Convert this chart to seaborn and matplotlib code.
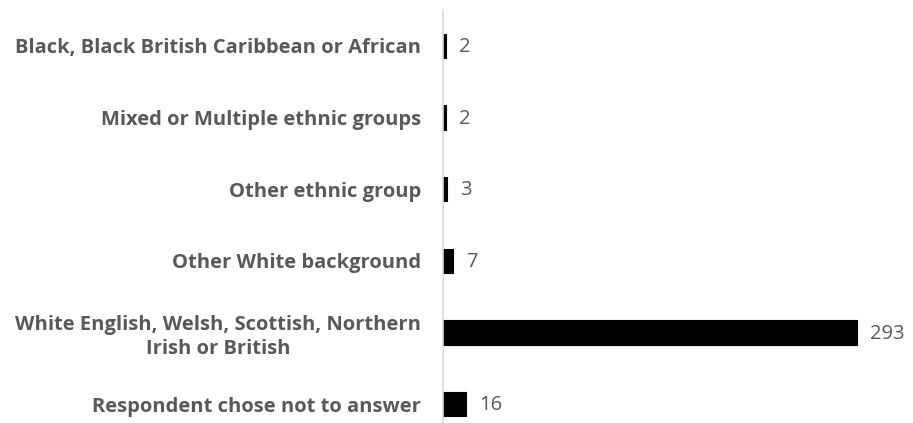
import matplotlib
matplotlib.use("Agg")
import matplotlib.pyplot as plt
import seaborn as sns
import pandas as pd

categories = [
    "Black, Black British Caribbean or African",
    "Mixed or Multiple ethnic groups",
    "Other ethnic group",
    "Other White background",
    "White English, Welsh, Scottish, Northern\nIrish or British",
    "Respondent chose not to answer",
]
values = [2, 2, 3, 7, 293, 16]

sns.set_theme(style="white")
plt.rcParams["font.family"] = ["Open Sans", "DejaVu Sans"]

df = pd.DataFrame({"category": categories, "value": values})

fig = plt.figure(figsize=(9.13, 4.23), dpi=100)
W, H = 913, 423
ax = fig.add_axes([443 / W, 0, (900 - 443) / W, (423 - 10) / H])

sns.barplot(data=df, y="category", x="value", color="black", width=0.34,
            saturation=1, ax=ax, orient="h")
for p in ax.patches:
    p.set_edgecolor("black")
    p.set_linewidth(0.8)

ax.set_xlim(0, (900 - 443) / (414 / 293))
ax.set_ylim(5.265, -0.5)
ax.set_xlabel("")
ax.set_ylabel("")
ax.set_xticks([])
for s in ["top", "right", "bottom"]:
    ax.spines[s].set_visible(False)
ax.spines["left"].set_color("#d9d9d9")
ax.spines["left"].set_linewidth(1.2)

ax.tick_params(axis="y", length=0, pad=16)
for lbl in ax.get_yticklabels():
    lbl.set_fontsize(14.5)
    lbl.set_fontweight("bold")
    lbl.set_color("#595959")
    lbl.set_horizontalalignment("right")
    lbl.set_multialignment("center")
    lbl.set_linespacing(1.3)

for i, v in enumerate(values):
    ax.annotate(str(v), xy=(v, i), xytext=(9.5, -1), textcoords="offset points",
                va="center", ha="left", fontsize=14.5, color="#595959")

fig.savefig("out.png", dpi=100)
